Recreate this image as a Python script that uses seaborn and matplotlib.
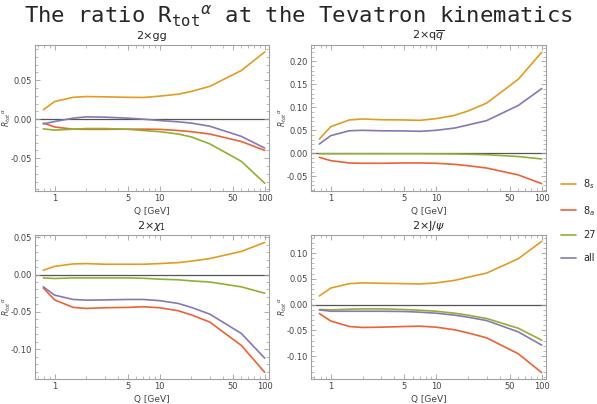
import numpy as np
import pandas as pd
import seaborn as sns
import matplotlib.pyplot as plt
from matplotlib.ticker import AutoMinorLocator, FormatStrFormatter, NullFormatter

# Q grid (GeV) shared by all channels
Q = [0.78, 1, 1.5, 2, 3, 5, 7, 10, 15, 20, 30, 60, 100]

# 2 x gg
gg_8s = [0.012, 0.0226, 0.028, 0.029, 0.0286, 0.028, 0.0278, 0.0295, 0.032, 0.0355, 0.042, 0.0624, 0.086]
gg_8a = [-0.005, -0.010, -0.0128, -0.013, -0.013, -0.0128, -0.0128, -0.013, -0.0145, -0.016, -0.019, -0.0286, -0.040]
gg_27 = [-0.0124, -0.014, -0.0128, -0.012, -0.012, -0.013, -0.0145, -0.016, -0.019, -0.0227, -0.0316, -0.054, -0.082]
gg_all = [-0.006, -0.003, 0.0013, 0.003, 0.0026, 0.0013, 0.0, -0.0017, -0.0034, -0.005, -0.009, -0.022, -0.037]

# 2 x q qbar
qq_8s = [0.031, 0.058, 0.0725, 0.0746, 0.073, 0.0725, 0.0717, 0.0754, 0.0826, 0.092, 0.109, 0.161, 0.2196]
qq_8a = [-0.0087, -0.016, -0.021, -0.0217, -0.0217, -0.021, -0.021, -0.0217, -0.024, -0.027, -0.032, -0.047, -0.066]
qq_27 = [-0.001, -0.001, -0.001, -0.001, -0.001, -0.001, -0.001, -0.0012, -0.0015, -0.002, -0.003, -0.007, -0.0123]
qq_all = [0.0203, 0.0384, 0.049, 0.050, 0.049, 0.0486, 0.0478, 0.050, 0.055, 0.0616, 0.071, 0.104, 0.1406]

# 2 x chi_1
chi_8s = [0.0058, 0.011, 0.0142, 0.0147, 0.0138, 0.0138, 0.0138, 0.0147, 0.016, 0.018, 0.0214, 0.031, 0.043]
chi_8a = [-0.018, -0.034, -0.044, -0.0454, -0.0445, -0.044, -0.0432, -0.0445, -0.0485, -0.054, -0.0637, -0.095, -0.131]
chi_27 = [-0.0045, -0.0053, -0.0045, -0.0045, -0.0045, -0.0045, -0.005, -0.0062, -0.007, -0.0085, -0.010, -0.0165, -0.025]
chi_all = [-0.0165, -0.0276, -0.0334, -0.0343, -0.034, -0.0334, -0.0334, -0.035, -0.0387, -0.044, -0.053, -0.079, -0.112]

# 2 x J/psi
psi_8s = [0.0168, 0.032, 0.0406, 0.042, 0.0413, 0.0406, 0.040, 0.042, 0.047, 0.053, 0.061, 0.089, 0.1226]
psi_8a = [-0.0174, -0.032, -0.0426, -0.0445, -0.0439, -0.0426, -0.042, -0.0439, -0.049, -0.055, -0.0645, -0.0955, -0.132]
psi_27 = [-0.0097, -0.0103, -0.009, -0.0084, -0.0084, -0.0097, -0.011, -0.013, -0.0168, -0.0206, -0.027, -0.046, -0.069]
psi_all = [-0.0103, -0.013, -0.013, -0.013, -0.013, -0.0135, -0.0148, -0.0168, -0.0206, -0.0245, -0.031, -0.053, -0.0787]

series_labels = ["8$_s$", "8$_a$", "27", "all"]
panel_titles = ["2\u00d7gg", "2\u00d7q$\\overline{q}$", "2\u00d7$\\chi_1$", "2\u00d7J/$\\psi$"]
panels = [
    (gg_8s, gg_8a, gg_27, gg_all),
    (qq_8s, qq_8a, qq_27, qq_all),
    (chi_8s, chi_8a, chi_27, chi_all),
    (psi_8s, psi_8a, psi_27, psi_all),
]
ylims = [(-0.092, 0.095), (-0.082, 0.2355), (-0.140, 0.053), (-0.1445, 0.135)]
yticks = [[-0.05, 0, 0.05],
          [-0.05, 0, 0.05, 0.10, 0.15, 0.20],
          [-0.10, -0.05, 0, 0.05],
          [-0.10, -0.05, 0, 0.05, 0.10]]
palette = ["#E19C24", "#EB6235", "#8FB032", "#8778B3"]

sns.set_style("ticks")
plt.rcParams['font.family'] = ['DejaVu Sans']

fig = plt.figure(figsize=(5.97, 4.04), dpi=100)
fig.text(0.5, 0.96, "The ratio $\\mathregular{R_{tot}}^{\\alpha}$ at the Tevatron kinematics",
         ha='center', va='center', fontsize=16, family='DejaVu Sans Mono')

positions = [[0.0586, 0.5272, 0.392, 0.3614],
             [0.521, 0.5272, 0.3936, 0.3614],
             [0.0586, 0.0619, 0.392, 0.3564],
             [0.521, 0.0619, 0.3936, 0.3564]]

frame_col = "#a0a0a0"
for k, (vals, pos) in enumerate(zip(panels, positions)):
    rows = []
    for lab, v in zip(series_labels, vals):
        rows.append(pd.DataFrame({"Q": Q, "R": v, "series": lab}))
    df = pd.concat(rows, ignore_index=True)
    ax = fig.add_axes(pos)
    sns.lineplot(data=df, x="Q", y="R", hue="series", palette=palette, ax=ax,
                 linewidth=1.2, legend=(k == 0))
    ax.axhline(0, color="#555555", lw=0.9, zorder=0)
    ax.set_xscale("log")
    ax.set_xlim(0.65, 110)
    ax.set_ylim(*ylims[k])
    ax.set_xticks([1, 5, 10, 50, 100])
    ax.set_xticklabels(["1", "5", "10", "50", "100"])
    ax.xaxis.set_minor_formatter(NullFormatter())
    ax.set_yticks(yticks[k])
    ax.yaxis.set_major_formatter(FormatStrFormatter('%.2f'))
    ax.yaxis.set_minor_locator(AutoMinorLocator(5))
    ax.tick_params(which='both', direction='in', top=True, right=True,
                   color=frame_col, labelsize=6, labelcolor="#444444", pad=2)
    ax.tick_params(which='major', length=3.5, width=0.6)
    ax.tick_params(which='minor', length=2, width=0.5)
    for s in ax.spines.values():
        s.set_color(frame_col)
        s.set_linewidth(0.8)
    ax.set_xlabel("Q [GeV]", fontsize=6.5, color="#444444", labelpad=3)
    ax.set_ylabel("$R_{tot}{}^{\\alpha}$", fontsize=5.5, color="#444444")
    ax.yaxis.set_label_coords(-0.093, 0.5)
    ax.set_title(panel_titles[k], fontsize=8, pad=4)
    if k == 0:
        handles, labels = ax.get_legend_handles_labels()
        ax.get_legend().remove()

fig.legend(handles, labels, loc='center left', bbox_to_anchor=(0.925, 0.455),
           frameon=False, fontsize=7, handlelength=1.5, labelspacing=1.3,
           handletextpad=0.8)

fig.savefig("out.png", dpi=100)
